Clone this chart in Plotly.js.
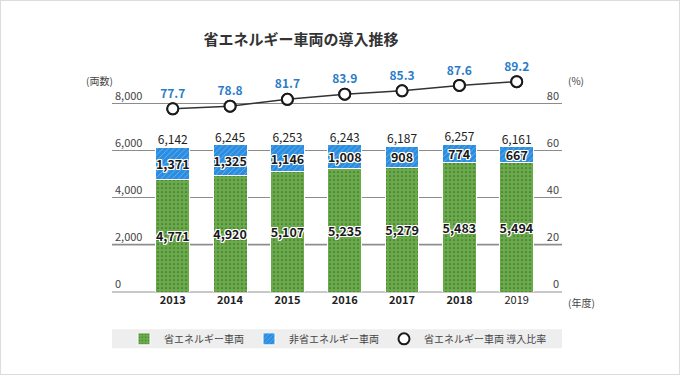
<!DOCTYPE html>
<html>
<head>
<meta charset="utf-8">
<script src="https://cdn.plot.ly/plotly-3.0.1.min.js"></script>
<style>
html,body{margin:0;padding:0;background:#fff;}
#wrap{position:relative;width:680px;height:375px;}
#wrap::after{content:"";position:absolute;left:0;top:0;right:0;bottom:0;border:1px solid #dcdcdc;pointer-events:none;}
#chart{width:680px;height:375px;}
</style>
</head>
<body>
<div id="wrap"><div id="chart"></div></div>
<script>
// ---- data ----
const years = ["2013", "2014", "2015", "2016", "2017", "2018", "2019"];
const ecoVehicles = [4771, 4920, 5107, 5235, 5279, 5483, 5494];
const nonEcoVehicles = [1371, 1325, 1146, 1008, 908, 774, 667];
const ecoRatio = [77.7, 78.8, 81.7, 83.9, 85.3, 87.6, 89.2];
const leftTicks = [0, 2000, 4000, 6000, 8000];
const rightTicks = [0, 20, 40, 60, 80];
const seriesNames = ["省エネルギー車両", "非省エネルギー車両", "省エネルギー車両 導入比率"];

const totals = ecoVehicles.map((v, i) => v + nonEcoVehicles[i]);
const fmt = v => v.toLocaleString("en-US");
const FONT = '"Noto Sans CJK JP", "Noto Sans", sans-serif';
const outline = "1px 1px 0 #fff, -1px -1px 0 #fff, 1px -1px 0 #fff, -1px 1px 0 #fff, 0 1px 0 #fff, 0 -1px 0 #fff, 1px 0 0 #fff, -1px 0 0 #fff";

const segFont = {family: FONT, size: 12.5, color: "#1a1a1a", weight: 700, shadow: outline};

// ---- geometry (pixels) ----
const plotTop = 58, plotBottom = 291.7, plotLeft = 112, plotRight = 562;
const gridTopPx = 103.3;   // where the top tick (8,000 / 80) sits
const plotH = plotBottom - plotTop;
const stretch = (plotBottom - plotTop) / (plotBottom - gridTopPx);
const yMax = leftTicks[leftTicks.length - 1] * stretch;
const y2Max = rightTicks[rightTicks.length - 1] * stretch;
const py = px => (plotBottom - px) / plotH;
const pxx = px => (px - plotLeft) / (plotRight - plotLeft);

const traces = [
  {
    type: "bar", name: seriesNames[0], x: years, y: ecoVehicles,
    text: ecoVehicles.map(fmt), textposition: "inside", insidetextanchor: "middle",
    constraintext: "none", textangle: 0, textfont: segFont,
    marker: {color: "#6aaa4b", line: {color: "#ffffff", width: 1},
      pattern: {shape: ".", fgcolor: "#3a6a2c", bgcolor: "#6aaa4b", size: 4, solidity: 0.15}},
    width: 0.59, hoverinfo: "skip"
  },
  {
    type: "bar", name: seriesNames[1], x: years, y: nonEcoVehicles,
    text: nonEcoVehicles.map(fmt), textposition: "inside", insidetextanchor: "middle",
    constraintext: "none", textangle: 0, textfont: segFont,
    marker: {color: "#2b8de0", line: {color: "#ffffff", width: 1},
      pattern: {shape: "/", fgcolor: "#7dbdf0", bgcolor: "#2b8de0", size: 4, solidity: 0.18}},
    width: 0.59, hoverinfo: "skip"
  },
  {
    type: "scatter", mode: "text", x: years, y: totals,
    text: totals.map(fmt), textposition: "top center",
    textfont: {family: FONT, size: 12, color: "#222"},
    showlegend: false, hoverinfo: "skip", cliponaxis: false
  },
  {
    type: "scatter", mode: "lines+markers+text", x: years, y: ecoRatio, yaxis: "y2",
    text: ecoRatio.map(v => v.toFixed(1)), textposition: "top center",
    textfont: {family: FONT, size: 12, color: "#2a7cc6", weight: 700},
    line: {color: "#333", width: 1.5},
    marker: {size: 11, color: "#fff", line: {color: "#1a1a1a", width: 2}},
    showlegend: false, hoverinfo: "skip", cliponaxis: false
  },
  {
    type: "scatter", mode: "markers", name: seriesNames[2], x: years, y: ecoRatio, yaxis: "y2",
    marker: {size: 11, color: "#fff", line: {color: "#1a1a1a", width: 2}},
    hoverinfo: "skip", cliponaxis: false
  }
];

const layout = {
  width: 680, height: 375,
  margin: {l: plotLeft, r: 680 - plotRight, t: plotTop, b: 375 - plotBottom, pad: 0},
  paper_bgcolor: "rgba(0,0,0,0)", plot_bgcolor: "rgba(0,0,0,0)",
  barmode: "stack",
  font: {family: FONT, size: 11, color: "#444"},
  title: {text: "<b>省エネルギー車両の導入推移</b>", x: 301 / 680, xanchor: "center",
    y: 1 - 40 / 375, yanchor: "middle", yref: "container",
    font: {family: FONT, size: 15, color: "#333"}},
  xaxis: {
    type: "category", range: [-1.06, 6.79], showgrid: false, zeroline: false, showline: false,
    ticks: "", tickvals: years,
    ticktext: years.map((y, i) => i < years.length - 1 ? "<b>" + y + "</b>" : y),
    tickfont: {family: FONT, size: 11, color: "#222"}, fixedrange: true
  },
  yaxis: {
    range: [0, yMax], tickvals: leftTicks, ticktext: leftTicks.map(fmt),
    showgrid: true, gridcolor: "#8c8c8c", gridwidth: 1,
    zeroline: true, zerolinecolor: "#c8c8c8", zerolinewidth: 2.5,
    ticklabelposition: "inside top", ticks: "", showline: false,
    tickfont: {family: FONT, size: 11, color: "#444"}, fixedrange: true
  },
  yaxis2: {
    overlaying: "y", side: "right", range: [0, y2Max], tickvals: rightTicks,
    showgrid: false, zeroline: false, showline: false, ticks: "",
    ticklabelposition: "inside top",
    tickfont: {family: FONT, size: 11, color: "#444"}, fixedrange: true
  },
  showlegend: true,
  legend: {
    orientation: "h", x: pxx(338), xanchor: "center", y: py(338.5), yanchor: "middle",
    bgcolor: "rgba(0,0,0,0)", font: {family: FONT, size: 10, color: "#444"},
    itemwidth: 30, traceorder: "normal", itemclick: false, itemdoubleclick: false
  },
  shapes: [
    {type: "rect", xref: "paper", yref: "paper", x0: 0, x1: 1, y0: py(348), y1: py(329),
      fillcolor: "#eeeeee", line: {width: 0}, layer: "below"},
    {type: "line", xref: "paper", yref: "y", x0: 0, x1: 1, y0: leftTicks[1], y1: leftTicks[1],
      line: {color: "#c8c8c8", width: 2.5}, layer: "below"}
  ],
  annotations: [
    {text: "(両数)", xref: "paper", yref: "paper", x: pxx(84), y: py(80), xanchor: "left", yanchor: "middle",
      showarrow: false, font: {family: FONT, size: 10, color: "#444"}},
    {text: "(%)", xref: "paper", yref: "paper", x: pxx(566), y: py(80), xanchor: "left", yanchor: "middle",
      showarrow: false, font: {family: FONT, size: 10, color: "#444"}},
    {text: "(年度)", xref: "paper", yref: "paper", x: pxx(566), y: py(302), xanchor: "left", yanchor: "middle",
      showarrow: false, font: {family: FONT, size: 10, color: "#444"}}
  ]
};

Plotly.newPlot("chart", traces, layout, {displayModeBar: false, staticPlot: true});
</script>
</body>
</html>
